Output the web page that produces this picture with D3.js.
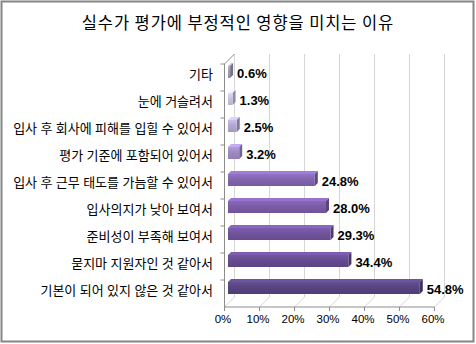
<!DOCTYPE html>
<html><head><meta charset="utf-8">
<script src="https://cdn.jsdelivr.net/npm/d3@7"></script>
<style>body{margin:0;background:#fff}svg{display:block}</style>
</head><body>
<svg id="c" width="476" height="344"></svg>
<script>
const title = "실수가 평가에 부정적인 영향을 미치는 이유";
const categories = ["기타","눈에 거슬려서","입사 후 회사에 피해를 입힐 수 있어서","평가 기준에 포함되어 있어서","입사 후 근무 태도를 가늠할 수 있어서","입사의지가 낮아 보여서","준비성이 부족해 보여서","묻지마 지원자인 것 같아서","기본이 되어 있지 않은 것 같아서"];
const values = [0.6,1.3,2.5,3.2,24.8,28.0,29.3,34.4,54.8];
const tickValues = [0,10,20,30,40,50,60];
const barColors = ["#a29db3","#c9c1dd","#b3a7d0","#9d8bc3","#8165ae","#7a5ca6","#6f539b","#654b8f","#574480"];

const svg = d3.select("#c");
const x0 = 224.5, floorY = 307, D = 10, plotW = 210, topY = 64;
const xs = d3.scaleLinear().domain([0,60]).range([0, plotW]);
const yb = d3.scaleBand().domain(categories).range([topY, floorY]);
const grid = "#d6d6d6", axisC = "#8c8c8c";

// outer frame
svg.append("rect").attr("x",1.5).attr("y",1.5).attr("width",472).attr("height",340)
  .attr("fill","#fff").attr("stroke","#858585").attr("stroke-width",2);

// title
svg.append("text").attr("x",238).attr("y",22).attr("text-anchor","middle")
  .attr("dominant-baseline","central").attr("font-family","'Noto Sans CJK KR'")
  .attr("font-size",16.5).attr("letter-spacing",0.9).attr("fill","#000").text(title);

const g = svg.append("g");
// back wall gridlines
tickValues.forEach(t=>{
  const xf = x0 + xs(t);
  g.append("line").attr("x1",xf+D).attr("x2",xf+D).attr("y1",topY-D).attr("y2",floorY-D)
    .attr("stroke",grid).attr("stroke-width",1);
  g.append("line").attr("x1",xf).attr("x2",xf+D).attr("y1",floorY).attr("y2",floorY-D)
    .attr("stroke",grid).attr("stroke-width",1);
});
// left wall top diagonal
g.append("line").attr("x1",x0).attr("y1",topY).attr("x2",x0+D).attr("y2",topY-D).attr("stroke",axisC);
// axes
g.append("line").attr("x1",x0).attr("x2",x0).attr("y1",topY).attr("y2",floorY).attr("stroke",axisC);
g.append("line").attr("x1",x0).attr("x2",x0+plotW).attr("y1",floorY).attr("y2",floorY).attr("stroke",axisC);
// left ticks at band boundaries
categories.forEach(c=>{
  const y = yb(c);
  g.append("line").attr("x1",x0-4).attr("x2",x0).attr("y1",y).attr("y2",y).attr("stroke",axisC);
});
// bottom ticks and labels
tickValues.forEach(t=>{
  const xf = x0 + xs(t);
  g.append("line").attr("x1",xf).attr("x2",xf).attr("y1",floorY).attr("y2",floorY+4).attr("stroke",axisC);
  g.append("text").attr("x",xf-1.5).attr("y",319).attr("text-anchor","middle")
    .attr("dominant-baseline","central").attr("font-family","'Liberation Sans'")
    .attr("font-size",11.5).attr("fill","#000").text(t+"%");
});

// bars
const barH = 12, bd = 3.5, dep = 3;
const defs = svg.append("defs");
categories.forEach((c,i)=>{
  const col = d3.color(barColors[i]);
  const gid = "gr"+i;
  const lg = defs.append("linearGradient").attr("id",gid).attr("x1",0).attr("x2",0).attr("y1",0).attr("y2",1);
  lg.append("stop").attr("offset","0%").attr("stop-color",col.brighter(0.35));
  lg.append("stop").attr("offset","45%").attr("stop-color",col);
  lg.append("stop").attr("offset","100%").attr("stop-color",col.darker(0.25));
  const yc = yb(c) + yb.bandwidth()/2 - 5.5;
  const yT = yc - barH/2;
  const xL = x0 + bd;
  const xR = xL + xs(values[i]);
  // top face
  g.append("path").attr("d",`M${xL},${yT}L${xR},${yT}L${xR+dep},${yT-dep}L${xL+dep},${yT-dep}Z`)
    .attr("fill",col.brighter(0.6));
  // side face
  g.append("path").attr("d",`M${xR},${yT}L${xR+dep},${yT-dep}L${xR+dep},${yT+barH-dep}L${xR},${yT+barH}Z`)
    .attr("fill",col.darker(0.9));
  // front
  g.append("rect").attr("x",xL).attr("y",yT).attr("width",Math.max(xR-xL,0.5)).attr("height",barH)
    .attr("fill",`url(#${gid})`);
  // value label
  g.append("text").attr("x",xR+dep+4).attr("y",yc+1).attr("dominant-baseline","central")
    .attr("font-family","'Liberation Sans'").attr("font-weight","bold").attr("font-size",13)
    .attr("fill","#000").text(values[i].toFixed(1)+"%");
  // category label
  g.append("text").attr("x",213).attr("y",yc+1).attr("text-anchor","end").attr("dominant-baseline","central")
    .attr("font-family","'Noto Sans CJK KR'").attr("font-size",13).attr("word-spacing",0.5)
    .attr("fill","#000").text(c);
});
</script>
</body></html>
